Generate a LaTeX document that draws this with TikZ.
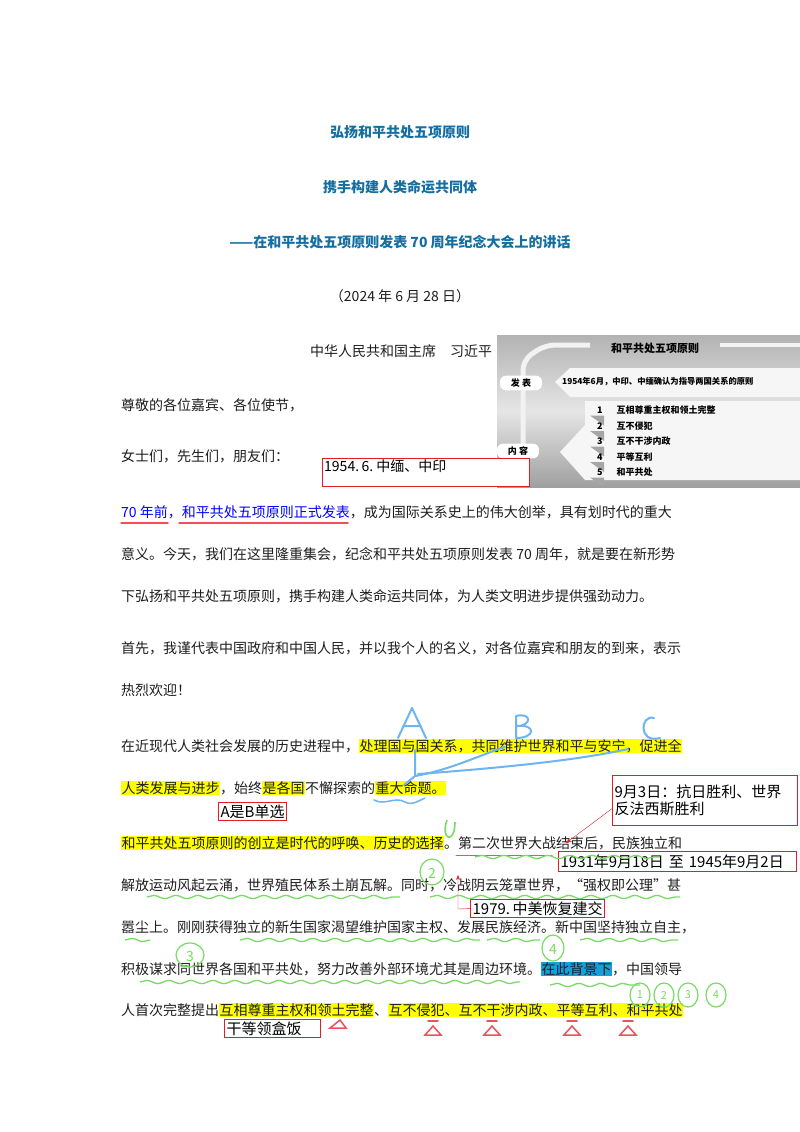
\documentclass[tikz,border=0pt]{standalone}
\usepackage{fontspec}
\setmainfont{Noto Sans CJK SC}
\newfontfamily\cjk{Noto Sans CJK SC}
\usetikzlibrary{decorations.pathmorphing,arrows.meta}
\definecolor{ttl}{RGB}{20,110,160}
\definecolor{hly}{RGB}{255,255,0}
\definecolor{hlb}{RGB}{20,160,220}
\definecolor{penb}{RGB}{110,180,240}
\definecolor{peng}{RGB}{120,220,100}
\definecolor{penr}{RGB}{240,80,90}
\definecolor{boxr}{RGB}{225,30,40}
\definecolor{txt}{RGB}{30,30,30}
\newcommand\hY[1]{{\setlength\fboxsep{0.5pt}\colorbox{hly}{#1}}}
\newcommand\hB[1]{{\setlength\fboxsep{0.5pt}\colorbox{hlb}{#1}}}
\begin{document}
\begin{tikzpicture}[x=1pt,y=-1pt,
  body/.style={anchor=base west,inner sep=0,font=\fontsize{14}{14}\selectfont,text=txt},
  ttlst/.style={anchor=base,inner sep=0,font=\fontsize{14}{14}\selectfont\bfseries,text=ttl},
  note/.style={draw=boxr,line width=1.2pt,anchor=north west,inner sep=2pt,font=\fontsize{15}{17}\selectfont,text=black,align=left,fill=white},
  greenw/.style={draw=peng,line width=1.3pt,decorate,decoration={snake,amplitude=1.6pt,segment length=22pt}},
  greenp/.style={draw=peng,line width=1.2pt},
  bluep/.style={draw=penb,line width=2pt,line cap=round,line join=round},
  redp/.style={draw=penr,line width=1.5pt,line cap=round},
  pic/.style={font=\fontsize{9}{9}\selectfont\bfseries,inner sep=0,text=black}]
\useasboundingbox (0,0) rectangle (800,1132);
\fill[white] (0,0) rectangle (800,1132);
% titles
\node[ttlst] (t1) at (400,137) {弘扬和平共处五项原则};
\node[ttlst] (t2) at (400,192) {携手构建人类命运共同体};
\node[ttlst] (t3) at (400,247) {——在和平共处五项原则发表 70 周年纪念大会上的讲话};
\node[anchor=base,inner sep=0,font=\fontsize{14}{14}\selectfont,text=txt] (dt) at (400,301) {（2024 年 6 月 28 日）};
\node[body] (au) at (310,356) {中华人民共和国主席\quad 习近平};
\node[body] (l1) at (121,410) {尊敬的各位嘉宾、各位使节，};
\node[body] (l2) at (121,461) {女士们，先生们，朋友们：};
% picture
\shade[top color=gray!60,bottom color=gray!75,middle color=gray!20] (497,335) rectangle (800,487);
\draw[white!90!gray,line width=5pt,rounded corners=10pt] (523,455) -- (523,360) -- (545,345) -- (590,345);
\draw[white!90!gray,line width=4pt] (720,345) -- (800,345);
\node[pic,font=\fontsize{11}{11}\selectfont\bfseries] (pt) at (655,348) {和平共处五项原则};
\fill[white!93!gray] (570,368) -- (800,368) -- (800,397) -- (570,397) -- (555,382) -- cycle;
\node[pic,anchor=west,font=\fontsize{8.3}{9}\selectfont\bfseries] (pl) at (562,382) {1954年6月，中印、中缅确认为指导两国关系的原则};
\node[fill=white,rounded corners=6pt,font=\fontsize{9}{9}\selectfont\bfseries,inner sep=3pt,minimum width=42pt] (fb) at (521,383) {发\ 表};
\fill[white!93!gray] (585,401) -- (800,401) -- (800,480) -- (585,480) -- (560,452) -- (585,425) -- cycle;
\node[fill=white,rounded corners=6pt,font=\fontsize{9}{9}\selectfont\bfseries,inner sep=3pt,minimum width=42pt] (nr) at (518,451) {内\ 容};
\foreach \n/\t [count=\i] in {1/互相尊重主权和领土完整,2/互不侵犯,3/互不干涉内政,4/平等互利,5/和平共处}{
  \fill[gray!70] (590,400+15.5*\i) -- (604,400+15.5*\i) -- (604,410+15.5*\i) -- cycle;
  \node[pic,anchor=west] (pn\i) at (597,410.5+15.5*\i-15.5) {\n\hspace{14pt}\t};
}
% 1954 box
\node[note,minimum width=207pt,minimum height=28pt] (b1954) at (322,458) {};
\node[anchor=north west,inner sep=0,font=\fontsize{14}{14}\selectfont] (b1954t) at (324,460) {1954.\,6.\ 中缅、中印};
% body
\node[body] (p1) at (121,517) {\textcolor{blue}{70 年前，和平共处五项原则正式发表}，成为国际关系史上的伟大创举，具有划时代的重大};
\draw[redp] (121,523) -- (168,523);
\draw[redp] (179,523) -- (348,523);
\node[body] (p2) at (121,559) {意义。今天，我们在这里隆重集会，纪念和平共处五项原则发表 70 周年，就是要在新形势};
\node[body] (p3) at (121,601) {下弘扬和平共处五项原则，携手构建人类命运共同体，为人类文明进步提供强劲动力。};
\node[body] (p4) at (121,653) {首先，我谨代表中国政府和中国人民，并以我个人的名义，对各位嘉宾和朋友的到来，表示};
\node[body] (p5) at (121,695) {热烈欢迎！};
\node[body] (p6) at (121,751) {在近现代人类社会发展的历史进程中，\hY{处理国与国关系，共同维护世界和平与安宁，促进全}};
\node[body] (p7) at (121,793) {\hY{人类发展与进步}，始终\hY{是各国}不懈探索的\hY{重大命题。}};
\node[body] (p8) at (121,848) {\hY{和平共处五项原则的创立是时代的呼唤、历史的选择}。第二次世界大战结束后，民族独立和};
\node[body] (p9) at (121,890) {解放运动风起云涌，世界殖民体系土崩瓦解。同时，冷战阴云笼罩世界，“强权即公理”甚};
\node[body] (p10) at (121,932) {嚣尘上。刚刚获得独立的新生国家渴望维护国家主权、发展民族经济。新中国坚持独立自主，};
\node[body] (p11) at (121,974) {积极谋求同世界各国和平共处，努力改善外部环境尤其是周边环境。\hB{在此背景下}，中国领导};
\node[body] (p12) at (121,1015) {人首次完整提出\hY{互相尊重主权和领土完整}、\hY{互不侵犯、互不干涉内政、平等互利、和平共处}};
% notes
\node[note] (nab) at (218,802) {A是B单选};
\node[note,text width=181pt,minimum height=50pt,align=left] (n93) at (612,775) {9月3日：抗日胜利、世界\\反法西斯胜利};
\node[note,text width=234pt,minimum height=20pt,align=left] (n31) at (558,851) {1931年9月18日\ 至\ 1945年9月2日};
\node[note] (n79) at (470,899) {1979.\,中美恢复建交};
\node[note,text width=92pt,align=left] (ngd) at (224,1019) {干等领盒饭};
\coordinate (a93) at (566,843);
\draw[boxr,-{Stealth[length=6pt]}] (n93.west) ++(0,8) -- (a93);
\coordinate (a79) at (458,875);
\draw[boxr,-{Stealth[length=5pt]}] (n79.west) -- (458,909) -- (a79);
\draw[redp,line width=1pt] (456,855) -- (552,855);
% blue pen
\draw[bluep] (398,738) -- (412,708) -- (426,738) (403,726) -- (421,726);
\draw[bluep] (516,716) -- (516,738) (516,716) .. controls (532,712) and (532,726) .. (517,726) .. controls (536,724) and (536,738) .. (516,738);
\draw[bluep] (654,718) .. controls (640,714) and (638,744) .. (660,738);
\draw[bluep] (415,750) -- (415,776) -- (404,785);
\draw[bluep] (415,776) .. controls (450,770) and (480,755) .. (505,747);
\draw[bluep] (418,774) .. controls (500,768) and (580,760) .. (628,749);
\draw[bluep,line width=1.5pt] (374,800) .. controls (385,806) and (395,796) .. (405,802) .. controls (412,806) and (420,800) .. (425,798);
% green pen
\draw[greenp,line width=1.6pt] (447,820) .. controls (440,840) and (455,845) .. (455,822);
\draw[greenw] (475,857) -- (660,857);
\draw[greenw] (147,897) -- (400,897);
\draw[greenw] (430,897) -- (680,897);
\draw[greenw] (125,940) -- (150,940);
\draw[greenw] (240,940) -- (480,940);
\draw[greenw] (487,940) -- (540,940);
\draw[greenw] (580,940) -- (678,940);
\draw[greenw] (140,982) -- (520,982);
\draw[greenw] (550,985) -- (640,985);
\draw[greenp] (432,872) circle[x radius=12pt,y radius=13pt];
\node[text=peng,font=\fontsize{14}{14}\selectfont] (g2) at (432,873) {2};
\draw[greenp] (190,955) circle[x radius=14pt,y radius=12pt];
\node[text=peng,font=\fontsize{14}{14}\selectfont] (g3) at (190,956) {3};
\draw[greenp] (553,948) circle[x radius=11pt,y radius=13pt];
\node[text=peng,font=\fontsize{14}{14}\selectfont] (g4) at (553,949) {4};
\foreach \x/\t in {640/1,664/2,688/3,716/4}{
  \draw[greenp] (\x,995) circle[x radius=10pt,y radius=12pt];
  \node[text=peng,font=\fontsize{11}{11}\selectfont,inner sep=0] at (\x,995) {\t};
}
% red triangles
\foreach \x in {433,492,572,628}{
  \draw[redp] (\x-5,1021) -- (\x+5,1021);
  \draw[redp] (\x-8,1035) -- (\x,1026) -- (\x+8,1035) -- cycle;
}
\draw[redp] (330,1028) -- (340,1020) -- (346,1028) -- cycle;
\end{tikzpicture}
\end{document}
